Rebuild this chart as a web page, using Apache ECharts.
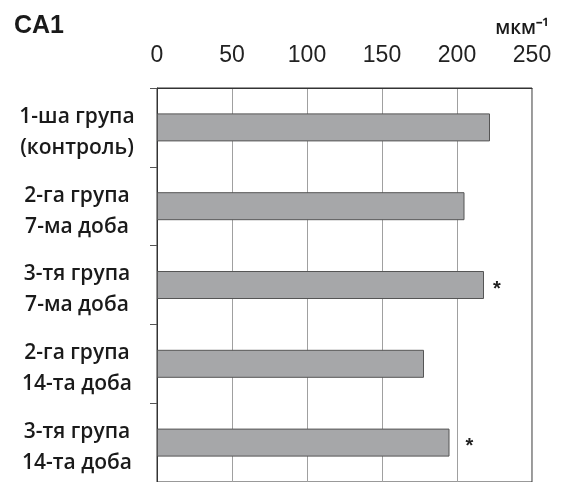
<!DOCTYPE html>
<html>
<head>
<meta charset="utf-8">
<script src="https://cdn.jsdelivr.net/npm/echarts@6/dist/echarts.min.js"></script>
<style>
  html, body { margin: 0; padding: 0; background: #fff; }
  #chart { width: 561px; height: 482px; }
</style>
</head>
<body>
<div id="chart"></div>
<script>
// groups, top to bottom
const categories = [
    '1-ша група\n(контроль)',
    '2-га група\n7-ма доба',
    '3-тя група\n7-ма доба',
    '2-га група\n14-та доба',
    '3-тя група\n14-та доба'
];
const values = [222, 205, 218, 178, 195];
const marks = ['', '', '*', '', '*'];
const markGap = [0, 0, 9, 0, 16];
const xTicks = [0, 50, 100, 150, 200, 250];

const chart = echarts.init(document.getElementById('chart'));

chart.setOption({
    animation: false,
    title: [
        {
            text: 'CA1',
            left: 9,
            top: 9,
            textStyle: { fontFamily: 'Liberation Sans', fontWeight: 'bold', fontSize: 25, color: '#1a1a1a' }
        },
        {
            text: 'мкм⁻¹',
            right: 7,
            top: 14,
            textStyle: { fontFamily: 'Open Sans', fontWeight: 600, fontSize: 19, color: '#1a1a1a' }
        }
    ],
    grid: {
        left: 157,
        right: 29,
        top: 88,
        bottom: -1,
        show: true,
        borderColor: '#333',
        borderWidth: 1
    },
    xAxis: {
        type: 'value',
        position: 'top',
        min: xTicks[0],
        max: xTicks[xTicks.length - 1],
        interval: 50,
        axisLine: { show: true, lineStyle: { color: '#333' } },
        axisTick: { show: false },
        splitLine: { show: true, lineStyle: { color: '#a0a0a0', width: 1 } },
        axisLabel: {
            fontFamily: 'Liberation Sans',
            fontSize: 23,
            color: '#222',
            margin: 21
        }
    },
    yAxis: {
        type: 'category',
        inverse: true,
        data: categories,
        axisLine: { show: true, lineStyle: { color: '#333' } },
        axisTick: { show: true, length: 7, lineStyle: { color: '#555' } },
        axisLabel: {
            // a thin blank first line nudges the two-line block down a little
            formatter: v => '{s| }\n' + v.split('\n').map(t => '{t|' + t + '}').join('\n'),
            align: 'center',
            margin: 80,
            rich: {
                s: { fontSize: 2, lineHeight: 10 },
                t: {
                    fontFamily: 'Open Sans',
                    fontWeight: 600,
                    fontSize: 21,
                    color: '#1a1a1a',
                    lineHeight: 31,
                    align: 'center'
                }
            }
        }
    },
    series: [{
        type: 'bar',
        barWidth: 28,
        data: values.map((v, i) => ({
            value: v,
            label: { show: marks[i] !== '', distance: markGap[i] }
        })),
        itemStyle: { color: '#a6a7a9', borderColor: '#555', borderWidth: 1 },
        label: {
            position: 'right',
            formatter: p => marks[p.dataIndex],
            fontFamily: 'Liberation Sans',
            fontWeight: 'bold',
            fontSize: 20,
            color: '#222',
            offset: [0, 4]
        }
    }]
});
</script>
</body>
</html>
